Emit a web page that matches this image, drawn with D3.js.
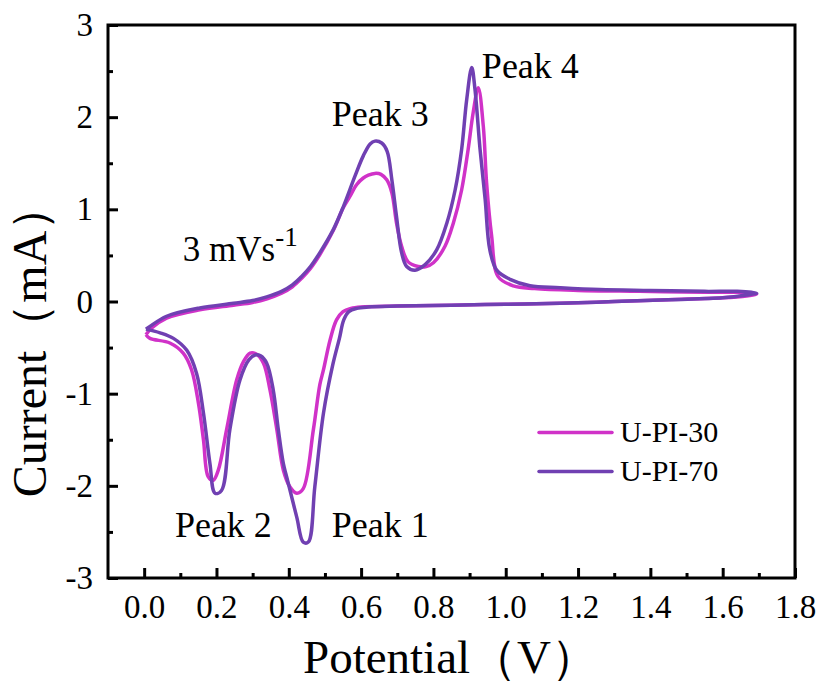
<!DOCTYPE html>
<html>
<head>
<meta charset="utf-8">
<script src="https://cdn.jsdelivr.net/npm/d3@7"></script>
<style>
  body { margin: 0; background: #fff; }
  svg, svg text { font-family: "Times New Roman", "Liberation Serif", serif; }
  .axis text { font-size: 33px; fill: #000; }
  .axis line { stroke: #000; stroke-width: 3; }
  .axis path { display: none; }
</style>
</head>
<body>
<svg class="chart"></svg>
<script>
// DATA /////////////////////////////////////////
const seriesNames = ["U-PI-30", "U-PI-70"];
const seriesColors = ["#d032c8", "#7040b2"];

// [potential (V), current (mA)] going round the loop
const upi30 = [
  [0.005, -0.36], [0.02, -0.29], [0.062, -0.18], [0.154, -0.09], [0.247, -0.04],
  [0.3, -0.01], [0.34, 0.03], [0.38, 0.09], [0.41, 0.16], [0.435, 0.25],
  [0.46, 0.36], [0.486, 0.51], [0.523, 0.77], [0.551, 1.02], [0.569, 1.14],
  [0.588, 1.27], [0.606, 1.34], [0.62, 1.37], [0.638, 1.39], [0.655, 1.38],
  [0.671, 1.32], [0.685, 1.18], [0.698, 0.85], [0.712, 0.6], [0.73, 0.43],
  [0.758, 0.38], [0.78, 0.38], [0.8, 0.42], [0.832, 0.6], [0.855, 0.85],
  [0.878, 1.21], [0.896, 1.65], [0.91, 2.05], [0.924, 2.32], [0.938, 1.9],
  [0.947, 1.29], [0.961, 0.71], [0.979, 0.27], [1.021, 0.17], [1.08, 0.14],
  [1.2, 0.12], [1.37, 0.11], [1.55, 0.1], [1.64, 0.1], [1.68, 0.09], [1.694, 0.08],
  [1.666, 0.06], [1.6, 0.04], [1.45, 0.02], [1.3, 0.0], [1.15, -0.02],
  [1.0, -0.03], [0.85, -0.04], [0.7, -0.05], [0.6, -0.06], [0.572, -0.075],
  [0.55, -0.11], [0.532, -0.2], [0.514, -0.42], [0.496, -0.74], [0.486, -0.9],
  [0.468, -1.39], [0.44, -2.03], [0.422, -2.08], [0.403, -2.01], [0.385, -1.83],
  [0.367, -1.39], [0.348, -0.96], [0.33, -0.67], [0.31, -0.57], [0.293, -0.56],
  [0.275, -0.65], [0.256, -0.85], [0.228, -1.39], [0.205, -1.83], [0.191, -1.94],
  [0.177, -1.9], [0.164, -1.5], [0.15, -1.1], [0.131, -0.74], [0.108, -0.56],
  [0.071, -0.45], [0.016, -0.4], [0.005, -0.36]
];

const upi70 = [
  [0.005, -0.3], [0.016, -0.27], [0.062, -0.16], [0.154, -0.07], [0.247, -0.02],
  [0.3, 0.01], [0.339, 0.05], [0.38, 0.11], [0.41, 0.18], [0.435, 0.27],
  [0.46, 0.38], [0.486, 0.53], [0.523, 0.78], [0.551, 1.03], [0.583, 1.36],
  [0.606, 1.58], [0.625, 1.71], [0.638, 1.74], [0.657, 1.72], [0.672, 1.63],
  [0.685, 1.32], [0.698, 0.92], [0.712, 0.53], [0.726, 0.38], [0.749, 0.34],
  [0.777, 0.4], [0.809, 0.56], [0.837, 0.85], [0.86, 1.21], [0.878, 1.65],
  [0.892, 2.19], [0.906, 2.54], [0.915, 2.3], [0.929, 1.65], [0.943, 1.11],
  [0.956, 0.56], [0.975, 0.34], [1.012, 0.24], [1.067, 0.17], [1.15, 0.15],
  [1.26, 0.13], [1.4, 0.12], [1.55, 0.11], [1.64, 0.11], [1.68, 0.1], [1.694, 0.09],
  [1.666, 0.07], [1.6, 0.04], [1.45, 0.02], [1.3, 0.0], [1.15, -0.02],
  [1.0, -0.03], [0.85, -0.04], [0.7, -0.05], [0.62, -0.06], [0.588, -0.075],
  [0.566, -0.11], [0.552, -0.2], [0.54, -0.4], [0.522, -0.68], [0.496, -1.21],
  [0.472, -2.01], [0.454, -2.61], [0.44, -2.61], [0.422, -2.34], [0.394, -1.9],
  [0.385, -1.76], [0.371, -1.39], [0.357, -0.96], [0.339, -0.67], [0.322, -0.59],
  [0.307, -0.58], [0.29, -0.63], [0.265, -0.85], [0.237, -1.39], [0.214, -2.05],
  [0.196, -2.08], [0.182, -1.76], [0.164, -1.21], [0.145, -0.78], [0.118, -0.53],
  [0.081, -0.4], [0.044, -0.34], [0.005, -0.3]
];

const xTicks = [0, 0.2, 0.4, 0.6, 0.8, 1.0, 1.2, 1.4, 1.6, 1.8];
const xMinorTicks = [0.1, 0.3, 0.5, 0.7, 0.9, 1.1, 1.3, 1.5, 1.7];
const yTicks = [-3, -2, -1, 0, 1, 2, 3];
const yMinorTicks = [-2.5, -1.5, -0.5, 0.5, 1.5, 2.5];

const peakLabels = [
  { text: "Peak 1", v: 0.519, i: -2.56 },
  { text: "Peak 2", v: 0.085, i: -2.56 },
  { text: "Peak 3", v: 0.519, i: 1.9 },
  { text: "Peak 4", v: 0.934, i: 2.43 }
];

// DEFINITIONS //////////////////////////////////
const W = 821;
const H = 682;
const margin = { top: 25, right: 26, bottom: 104, left: 108 };
const width = W - margin.left - margin.right;
const height = H - margin.top - margin.bottom;

const svg = d3.select(".chart").attr("width", W).attr("height", H);
const chart = svg
  .append("g")
  .attr("transform", `translate(${margin.left}, ${margin.top})`);

const x = d3.scaleLinear().domain([-0.1, 1.8]).range([0, width]);
const y = d3.scaleLinear().domain([-3, 3]).range([height, 0]);

// AXES /////////////////////////////////////////
const fixFont = (g) => g.attr("font-family", null).attr("font-size", null);

chart
  .append("g")
  .attr("class", "axis")
  .attr("transform", `translate(0, ${height})`)
  .call(d3.axisBottom(x).tickValues(xTicks).tickSize(-10).tickPadding(17).tickFormat(d3.format(".1f")))
  .call(fixFont);

chart
  .append("g")
  .attr("class", "axis")
  .attr("transform", `translate(0, ${height})`)
  .call(d3.axisBottom(x).tickValues(xMinorTicks).tickSize(-5).tickFormat(""));

chart
  .append("g")
  .attr("class", "axis")
  .call(d3.axisLeft(y).tickValues(yTicks).tickSize(-10).tickPadding(15).tickFormat((d) => String(d)))
  .call(fixFont);

chart
  .append("g")
  .attr("class", "axis")
  .call(d3.axisLeft(y).tickValues(yMinorTicks).tickSize(-5).tickFormat(""));

// CURVES ///////////////////////////////////////
const line = d3
  .line()
  .x((d) => x(d[0]))
  .y((d) => y(d[1]))
  .curve(d3.curveCatmullRom.alpha(0.5));

[upi30, upi70].forEach((data, k) => {
  chart
    .append("path")
    .datum(data)
    .attr("fill", "none")
    .attr("stroke", seriesColors[k])
    .attr("stroke-width", 3.5)
    .attr("stroke-linejoin", "round")
    .attr("d", line);
});

// frame
chart
  .append("rect")
  .attr("width", width)
  .attr("height", height)
  .attr("fill", "none")
  .attr("stroke", "#000")
  .attr("stroke-width", 3);

// ANNOTATIONS //////////////////////////////////
chart
  .selectAll(".peak")
  .data(peakLabels)
  .enter()
  .append("text")
  .attr("class", "peak")
  .attr("x", (d) => x(d.v))
  .attr("y", (d) => y(d.i))
  .style("font-size", "36px")
  .text((d) => d.text);

const rate = chart
  .append("text")
  .attr("x", x(0.107))
  .attr("y", y(0.44))
  .style("font-size", "35px");
rate.append("tspan").text("3 mVs");
rate.append("tspan").attr("dy", -15).style("font-size", "27px").text("-1");

// LEGEND ///////////////////////////////////////
const legend = chart
  .selectAll(".legend")
  .data(seriesNames)
  .enter()
  .append("g")
  .attr("class", "legend")
  .attr("transform", (d, i) => `translate(${x(1.092)}, ${y(-1.42) + i * 39})`);

legend
  .append("line")
  .attr("x1", 0)
  .attr("x2", 73)
  .attr("stroke", (d, i) => seriesColors[i])
  .attr("stroke-width", 3.5)
  .attr("stroke-linecap", "round");

legend
  .append("text")
  .attr("x", 81)
  .attr("dy", 10)
  .style("font-size", "30px")
  .text((d) => d);

// AXIS TITLES //////////////////////////////////
svg
  .append("text")
  .attr("x", 303)
  .attr("y", 673)
  .style("font-size", "47px")
  .text("Potential（V）");

svg
  .append("text")
  .attr("transform", "translate(46, 340) rotate(-90)")
  .attr("text-anchor", "middle")
  .style("font-size", "48px")
  .text("Current（mA）");
</script>
</body>
</html>
